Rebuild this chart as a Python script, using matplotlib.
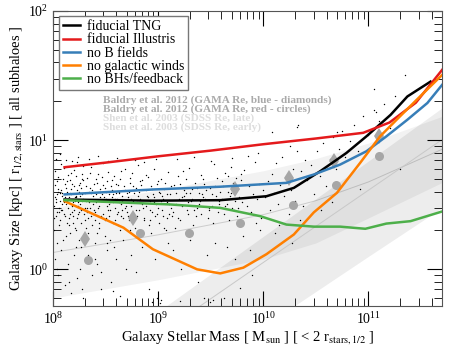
import numpy as np
import matplotlib
matplotlib.use("Agg")
from matplotlib import pyplot as plt

# simulation median lines: log10 stellar mass, size in kpc
tng_m = [8.11, 8.95, 9.59, 10.03, 10.29, 10.54, 10.79, 10.98, 11.21, 11.37, 11.59]
tng_r = [3.47, 3.40, 3.43, 3.68, 4.27, 5.74, 7.96, 10.7, 15.7, 21.8, 28.4]

ill_m = [8.11, 8.5, 9.0, 9.5, 10.0, 10.5, 10.95, 11.2, 11.45, 11.7]
ill_r = [6.17, 6.7, 7.5, 8.3, 9.3, 10.3, 11.4, 13.7, 19.5, 35.0]

nob_m = [8.11, 8.95, 9.59, 10.22, 10.48, 10.73, 10.98, 11.17, 11.37, 11.56, 11.70]
nob_r = [3.8, 4.15, 4.36, 4.67, 5.42, 6.47, 8.2, 10.7, 14.4, 19.4, 26.8]

now_m = [8.11, 8.67, 8.95, 9.37, 9.59, 9.81, 10.03, 10.29, 10.48, 10.70, 10.92, 11.11, 11.30, 11.46, 11.70]
now_r = [3.37, 2.10, 1.43, 1.0, 0.93, 1.03, 1.31, 1.86, 2.76, 3.91, 6.66, 10.7, 15.3, 20.6, 32.0]

nobh_m = [8.11, 9.11, 9.59, 9.97, 10.22, 10.48, 10.73, 10.97, 11.17, 11.40, 11.71]
nobh_r = [3.43, 3.18, 2.99, 2.58, 2.22, 2.14, 2.14, 2.06, 2.26, 2.36, 2.82]

# Baldry et al. 2012 (GAMA) points
baldry_blue_m = [8.30, 8.76, 9.73, 10.24, 10.67, 11.10]
baldry_blue_r = [1.71, 2.51, 4.2, 5.1, 6.85, 10.8]
baldry_red_m = [8.33, 8.83, 9.29, 9.78, 10.28, 10.69, 11.10]
baldry_red_r = [1.19, 1.92, 1.90, 2.27, 3.12, 4.53, 7.5]

# Shen et al. 2003 bands (late and early types)
shen_late_m = [8.0, 9.0, 10.0, 10.5, 11.0, 11.7]
shen_late_mid = [1.35, 1.85, 2.65, 3.4, 4.75, 8.5]
shen_late_lo = [0.6, 0.83, 1.2, 1.6, 2.5, 4.7]
shen_late_hi = [3.0, 4.1, 5.8, 7.2, 9.5, 15.3]

shen_early_m = [9.0, 10.0, 11.0, 11.7]
shen_early_mid = [0.31, 1.13, 4.1, 10.1]
shen_early_lo = [0.1, 0.36, 1.26, 3.0]
shen_early_hi = [0.47, 1.8, 6.9, 17.8]

# individual TNG galaxies (log10 mass, size kpc), read off roughly
dots_txt = """
8.01 3.1, 8.02 4.5, 8.03 2.6, 8.04 3.8, 8.05 5.2, 8.06 2.2, 8.07 3.4, 8.08 4.1, 8.09 2.9, 8.10 6.1,
8.11 3.6, 8.12 1.8, 8.13 4.8, 8.14 3.0, 8.15 2.5, 8.16 3.9, 8.17 5.6, 8.18 2.8, 8.19 3.3, 8.20 4.4,
8.21 2.1, 8.22 3.7, 8.23 6.8, 8.24 2.7, 8.25 4.0, 8.26 3.2, 8.27 1.5, 8.28 5.0, 8.29 3.5, 8.30 2.4,
8.01 2.0, 8.02 5.8, 8.03 3.5, 8.04 1.6, 8.05 4.0, 8.06 3.0, 8.07 2.4, 8.08 6.5, 8.09 3.7, 8.10 2.7,
8.11 4.6, 8.12 3.2, 8.13 2.3, 8.14 5.4, 8.15 3.6, 8.16 1.9, 8.17 4.2, 8.18 3.1, 8.19 2.6, 8.20 5.9,
8.21 3.4, 8.22 2.0, 8.23 4.1, 8.24 3.3, 8.25 1.7, 8.26 4.7, 8.27 2.9, 8.28 3.8, 8.29 6.3, 8.30 3.0,
8.02 1.2, 8.05 0.9, 8.08 1.4, 8.11 0.75, 8.14 1.1, 8.17 0.65, 8.20 1.3, 8.23 0.85, 8.26 1.0, 8.29 0.6,
8.03 7.2, 8.07 7.8, 8.12 7.0, 8.18 6.9, 8.24 7.4, 8.28 5.5, 8.04 2.8, 8.09 3.9, 8.13 3.4, 8.16 4.9,
8.19 2.3, 8.22 3.6, 8.25 2.8, 8.27 4.3, 8.015 3.6, 8.045 4.2, 8.075 2.9, 8.105 3.3, 8.135 4.0, 8.165 2.7,
8.31 3.4, 8.32 5.1, 8.33 2.5, 8.34 4.0, 8.35 3.0, 8.36 6.2, 8.37 2.2, 8.38 3.7, 8.39 4.6, 8.40 2.8,
8.41 3.3, 8.42 1.9, 8.43 5.5, 8.44 3.1, 8.45 4.2, 8.46 2.6, 8.47 3.8, 8.48 6.7, 8.49 2.4, 8.50 3.5,
8.51 4.8, 8.52 2.9, 8.53 3.2, 8.54 1.7, 8.55 4.4, 8.56 3.6, 8.57 2.3, 8.58 5.3, 8.59 3.0, 8.60 3.9,
8.61 2.7, 8.62 4.5, 8.63 3.3, 8.64 2.0, 8.65 5.8, 8.66 3.7, 8.67 2.5, 8.68 4.1, 8.69 3.1, 8.70 2.8,
8.32 3.0, 8.35 4.3, 8.38 2.7, 8.41 5.0, 8.44 2.3, 8.47 3.4, 8.50 4.0, 8.53 2.6, 8.56 4.9, 8.59 3.5,
8.62 2.2, 8.65 3.2, 8.68 6.0, 8.33 1.3, 8.37 0.9, 8.42 1.1, 8.46 0.7, 8.51 1.4, 8.55 0.8, 8.60 1.2,
8.64 0.62, 8.69 1.0, 8.34 7.1, 8.43 7.5, 8.52 6.9, 8.61 7.3, 8.36 3.9, 8.45 3.6, 8.54 3.3, 8.63 4.0,
8.40 1.6, 8.49 1.8, 8.58 1.5, 8.67 1.7, 8.31 2.1, 8.39 2.9, 8.48 4.5, 8.57 3.8, 8.66 2.9,
8.71 3.6, 8.72 2.4, 8.73 4.7, 8.74 3.1, 8.75 5.6, 8.76 2.7, 8.77 3.9, 8.78 2.1, 8.79 4.3, 8.80 3.3,
8.81 6.4, 8.82 2.9, 8.83 3.5, 8.84 1.8, 8.85 4.9, 8.86 3.0, 8.87 2.5, 8.88 4.1, 8.89 3.7, 8.90 5.2,
8.91 2.2, 8.92 3.4, 8.93 4.4, 8.94 2.8, 8.95 3.8, 8.96 6.0, 8.97 2.6, 8.98 3.2, 8.99 4.6, 9.00 3.0,
9.01 2.3, 9.02 3.9, 9.03 5.0, 9.04 2.9, 9.05 3.5, 9.06 4.2, 9.07 2.0, 9.08 3.3, 9.09 5.7, 9.10 2.7,
8.72 4.0, 8.76 3.4, 8.80 2.6, 8.84 4.5, 8.88 3.1, 8.92 2.4, 8.96 3.6, 9.00 4.8, 9.04 3.7, 9.08 2.5,
8.74 1.3, 8.79 0.95, 8.85 1.5, 8.91 0.7, 8.97 1.2, 9.03 0.58, 9.09 1.6, 8.78 7.0, 8.87 6.8, 8.98 7.2,
8.73 2.0, 8.82 4.0, 8.93 1.9, 9.06 2.1, 8.94 0.56, 8.99 0.6, 9.02 0.55,
9.11 3.8, 9.13 2.6, 9.15 4.5, 9.17 3.2, 9.19 5.3, 9.21 2.4, 9.23 3.6, 9.25 4.1, 9.27 2.9, 9.29 6.1,
9.31 3.4, 9.33 2.2, 9.35 4.7, 9.37 3.0, 9.39 3.9, 9.41 2.7, 9.43 5.0, 9.45 3.5, 9.47 2.5, 9.49 4.3,
9.51 3.1, 9.53 6.5, 9.55 3.7, 9.57 2.8, 9.59 4.0, 9.12 3.0, 9.16 2.1, 9.20 3.5, 9.24 5.8, 9.28 3.3,
9.32 4.2, 9.36 2.6, 9.40 3.4, 9.44 4.6, 9.48 3.0, 9.52 2.3, 9.56 5.1, 9.14 1.4, 9.22 1.0, 9.30 1.7,
9.38 0.8, 9.46 1.3, 9.54 1.6, 9.18 7.1, 9.34 7.4, 9.50 6.9, 9.26 3.9, 9.42 3.8, 9.58 3.2,
9.21 0.57, 9.44 0.6, 9.49 0.56, 9.52 0.58,
9.61 3.5, 9.62 4.4, 9.63 2.7, 9.64 5.6, 9.65 3.2, 9.66 4.0, 9.67 2.4, 9.68 3.7, 9.69 6.2, 9.70 3.0,
9.71 4.7, 9.72 2.9, 9.73 3.4, 9.74 5.1, 9.75 2.6, 9.76 4.2, 9.77 3.6, 9.78 2.2, 9.79 4.9, 9.80 3.3,
9.82 5.9, 9.84 3.1, 9.86 4.4, 9.88 2.8, 9.90 3.8, 9.92 6.8, 9.94 3.5, 9.96 4.6, 9.98 2.5, 10.0 4.1,
9.65 1.5, 9.73 1.2, 9.81 1.8, 9.89 0.9, 9.97 2.0, 9.70 7.3, 9.85 7.6, 9.95 8.0, 9.63 0.6, 9.78 0.72,
9.87 1.4, 9.93 2.3,
10.02 3.6, 10.04 4.8, 10.06 2.9, 10.08 5.5, 10.10 3.9, 10.12 6.6, 10.14 3.2, 10.16 4.5, 10.18 7.4, 10.20 3.7,
10.22 5.2, 10.24 2.7, 10.26 4.1, 10.28 6.0, 10.30 3.4, 10.32 8.3, 10.34 4.6, 10.36 5.8, 10.38 3.1, 10.40 7.0,
10.08 11.5, 10.33 13.2, 10.32 12.7, 10.15 2.2, 10.27 1.6, 10.35 2.4, 10.11 1.9, 10.25 9.0,
10.42 4.9, 10.45 6.4, 10.48 3.8, 10.51 8.2, 10.54 5.3, 10.57 9.5, 10.60 4.4, 10.63 7.1, 10.66 10.5, 10.69 6.0,
10.72 8.6, 10.75 11.8, 10.78 7.4, 10.70 11.5, 10.55 2.9, 10.65 3.3,
10.82 9.8, 10.86 13.0, 10.90 8.3, 10.95 15.5, 11.00 11.0, 11.05 17.0, 11.05 25.0, 11.07 16.5, 11.10 14.0, 11.15 19.0,
11.20 12.5, 11.35 32.0, 11.25 22.0, 10.92 4.2, 11.30 6.0,
8.005 2.5, 8.025 3.3, 8.035 4.8, 8.055 2.8, 8.065 3.9, 8.085 3.2, 8.095 5.0, 8.115 2.6, 8.125 4.3, 8.145 3.5,
8.155 2.2, 8.175 3.8, 8.185 4.6, 8.195 2.9, 8.205 3.6, 8.215 5.3, 8.225 2.5, 8.235 3.1, 8.245 4.5, 8.255 3.7,
8.265 2.3, 8.275 3.4, 8.285 4.9, 8.295 2.7, 8.305 3.9, 8.315 4.4, 8.325 2.8, 8.345 3.3, 8.355 5.6, 8.365 2.6,
8.375 4.1, 8.385 3.2, 8.395 2.4, 8.405 3.8, 8.415 4.7, 8.425 3.0, 8.435 2.1, 8.445 4.0, 8.455 3.4, 8.465 5.2,
8.475 2.7, 8.485 3.6, 8.495 4.3, 8.505 2.5, 8.515 3.1, 8.525 5.7, 8.535 3.8, 8.545 2.9, 8.565 4.1, 8.575 3.3,
8.585 2.4, 8.595 4.6, 8.605 3.5, 8.615 2.8, 8.625 3.9, 8.635 5.0, 8.645 2.6, 8.655 3.4, 8.675 4.4, 8.685 3.0,
8.705 3.9, 8.715 2.6, 8.735 5.1, 8.745 3.5, 8.765 4.4, 8.785 2.9, 8.805 3.7, 8.825 4.8, 8.845 3.2, 8.865 2.4,
8.885 5.4, 8.905 3.6, 8.925 2.9, 8.945 4.2, 8.965 3.3, 8.985 2.7, 9.005 4.0, 9.025 3.4, 9.045 2.6, 9.065 4.7,
9.085 3.8, 9.105 3.2, 9.125 4.4, 9.145 2.8, 9.165 3.9, 9.185 2.5, 9.205 4.6, 9.225 3.1, 9.245 3.7, 9.265 5.0,
9.285 2.7, 9.305 3.9, 9.325 3.5, 9.345 2.9, 9.365 4.3, 9.385 3.2, 9.405 5.4, 9.425 3.6, 9.455 4.1, 9.485 2.9,
9.515 3.8, 9.545 4.4, 9.575 3.4, 9.605 4.8, 9.635 3.1, 9.665 5.3, 9.695 3.9, 9.725 4.5, 9.755 3.0, 9.785 5.5,
8.035 1.0, 8.095 1.7, 8.155 0.8, 8.215 1.5, 8.275 0.7, 8.335 1.9, 8.395 1.2, 8.455 0.95, 8.515 1.6, 8.575 0.68
"""
dots = np.array([p.split() for p in dots_txt.replace("\n", " ").split(",") if p.strip()], dtype=float)
dots_m, dots_r = dots[:, 0], dots[:, 1]

plt.rcParams["font.family"] = "serif"
plt.rcParams["font.serif"] = ["Liberation Serif", "DejaVu Serif"]
plt.rcParams["mathtext.fontset"] = "stix"

fig = plt.figure(figsize=(4.52, 3.5), dpi=100)
ax = fig.add_axes([53 / 452, 44 / 350, 389 / 452, 295 / 350])


def mass(logm):
    return 10.0 ** np.asarray(logm)


# observational bands
ax.fill_between(mass(shen_late_m), shen_late_lo, shen_late_hi, color="k", alpha=0.05, lw=0, zorder=1)
ax.plot(mass(shen_late_m), shen_late_mid, color="#cccccc", lw=0.7, zorder=1)
ax.fill_between(mass(shen_early_m), shen_early_lo, shen_early_hi, color="k", alpha=0.07, lw=0, zorder=1)
ax.plot(mass(shen_early_m), shen_early_mid, color="#c8c8c8", lw=0.7, zorder=1)

ax.plot(mass(dots_m), dots_r, "k.", ms=2.0, mew=0, zorder=2)

ax.plot(mass(baldry_blue_m), baldry_blue_r, "d", color="#a6a6a6", ms=8, mew=0, zorder=3)
ax.plot(mass(baldry_red_m), baldry_red_r, "o", color="#a6a6a6", ms=6.5, mew=0, zorder=3)

lines = [
    (tng_m, tng_r, "black", "fiducial TNG"),
    (ill_m, ill_r, "#e41a1c", "fiducial Illustris"),
    (nob_m, nob_r, "#377eb8", "no B fields"),
    (now_m, now_r, "#ff7f00", "no galactic winds"),
    (nobh_m, nobh_r, "#4daf4a", "no BHs/feedback"),
]
for m, r, c, lab in lines:
    ax.plot(mass(m), r, color=c, lw=1.8, label=lab, zorder=4)

ax.set_xscale("log")
ax.set_yscale("log")
ax.set_xlim(1e8, 5e11)
ax.set_ylim(0.52, 100)
ax.set_xlabel(r"Galaxy Stellar Mass [ M$_{\rm sun}$ ] [ < 2 r$_{\rm stars,1/2}$ ]", fontsize=10.5, labelpad=2)
ax.set_ylabel(r"Galaxy Size [kpc] [ r$_{\rm 1/2, stars}$ ] [ all subhaloes ]", fontsize=10.5, labelpad=2)
ax.tick_params(which="both", direction="in", top=True, right=True, labelsize=10)
ax.tick_params(which="major", length=11)
ax.tick_params(which="minor", length=5.5)
for s in ax.spines.values():
    s.set_color("#555555")

leg = ax.legend(loc="upper left", bbox_to_anchor=(0.015, 0.983), fontsize=10, frameon=True, fancybox=False,
                framealpha=1, edgecolor="#777777", labelspacing=0.02, handlelength=1.25,
                handletextpad=0.45, borderpad=0.3, borderaxespad=0)
leg.get_frame().set_linewidth(1.0)

refs = [
    ("Baldry et al. 2012 (GAMA Re, blue - diamonds)", "#aaaaaa"),
    ("Baldry et al. 2012 (GAMA Re, red - circles)", "#aaaaaa"),
    ("Shen et al. 2003 (SDSS Re, late)", "#dddddd"),
    ("Shen et al. 2003 (SDSS Re, early)", "#dddddd"),
]
for i, (txt, c) in enumerate(refs):
    ax.text(0.129, 0.698 - i * 0.031, txt, transform=ax.transAxes, color=c, fontsize=8.1,
            fontweight="bold", va="center", ha="left", zorder=5)

fig.savefig("out.png", dpi=100)
